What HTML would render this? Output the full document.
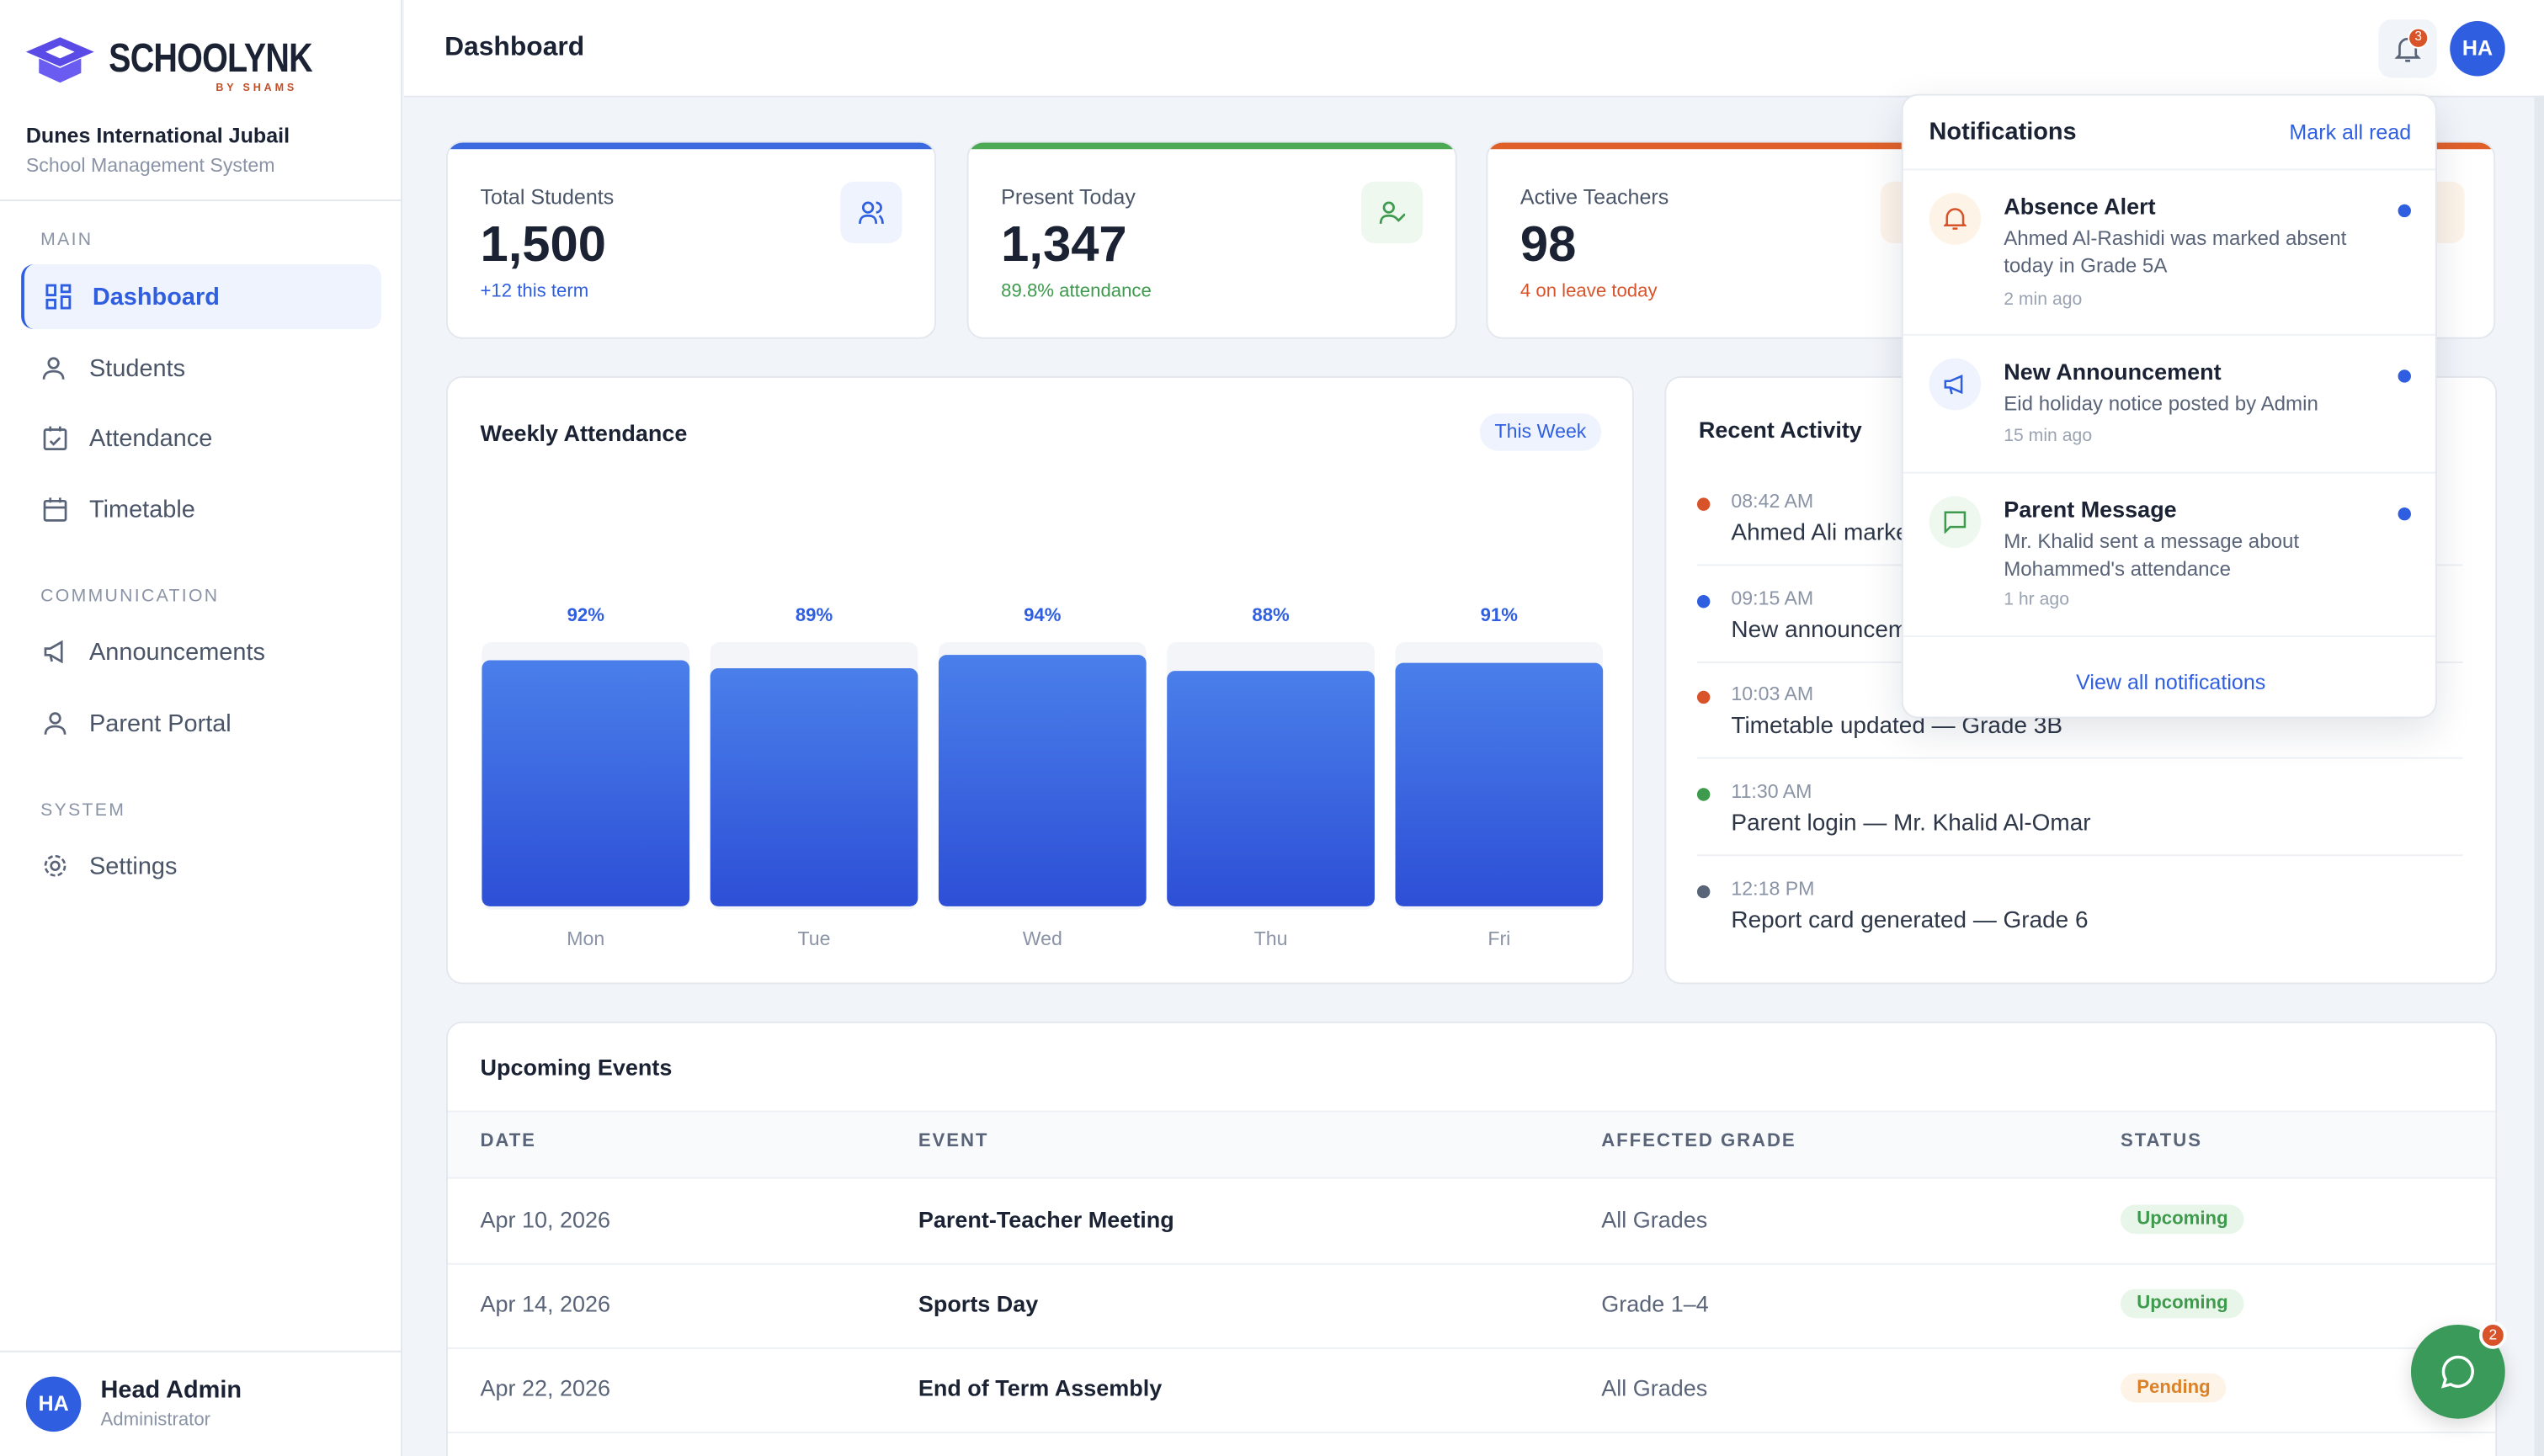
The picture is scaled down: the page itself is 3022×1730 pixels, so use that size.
<!DOCTYPE html>
<html><head><meta charset="utf-8">
<style>
*{box-sizing:border-box;margin:0;padding:0}
html,body{width:3022px;height:1730px;overflow:hidden;background:#fff}
body{font-family:"Liberation Sans",sans-serif;color:#1a2233}
#wrap{position:absolute;left:0;top:0;width:1568px;height:898px;transform:scale(1.9273,1.9265);transform-origin:0 0;background:#f1f4f9;overflow:hidden}
.abs{position:absolute}
.side{left:0;top:0;width:248px;height:898px;background:#fff;border-right:1px solid #e3e7ee}
.nav{position:absolute;left:13px;width:222px;height:40px;border-radius:8px;display:flex;align-items:center;padding-left:42px;font-size:15px;color:#4a5568}
.nav svg{position:absolute;left:13px;top:12px}
.sec{position:absolute;left:25px;font-size:11px;letter-spacing:1.2px;color:#8a94a6}
.card{position:absolute;background:#fff;border:1px solid #e3e7ee;border-radius:10px;overflow:hidden}
.stat .lbl{position:absolute;left:20px;top:26px;font-size:13px;color:#4a5568}
.stat .num{position:absolute;left:20px;top:45px;font-size:31px;font-weight:bold;color:#1a2233}
.stat .sub{position:absolute;left:20px;top:86px;font-size:11.5px}
.stat .ib{position:absolute;left:242px;top:24px;width:38px;height:38px;border-radius:8px}
.stat .bar{position:absolute;left:0;top:0;width:100%;height:4px}
.act{position:absolute;left:1046px;width:472px;height:60px}
.act .dot{position:absolute;left:0;top:5px;width:8px;height:8px;border-radius:50%}
.act .t{position:absolute;left:21px;top:0;font-size:12px;color:#8a94a6}
.act .d{position:absolute;left:21px;top:19px;font-size:14.5px;color:#2d3748;white-space:nowrap}
.sep{position:absolute;left:1046px;width:472px;height:1px;background:#edf0f4}
.th{position:absolute;top:698px;font-size:11.5px;letter-spacing:1px;color:#5a6478;font-weight:bold}
.td{position:absolute;font-size:14px;color:#5a6478}
.pill{position:absolute;font-size:11.5px;font-weight:bold;border-radius:10px;padding:3px 10px}
.ni{position:absolute;left:0;width:329px;border-bottom:1px solid #edf0f4}
.ni .ic{position:absolute;left:16px;width:32px;height:32px;border-radius:50%}
.ni .h{position:absolute;left:62px;font-size:14px;font-weight:bold;color:#1a2233}
.ni .m{position:absolute;left:62px;font-size:12.5px;color:#5a6478;line-height:17px;width:240px}
.ni .a{position:absolute;left:62px;font-size:11px;color:#9aa3b2}
.ni .u{position:absolute;left:305px;width:8px;height:8px;border-radius:50%;background:#2f5fe0}
</style></head><body>
<div id="wrap">
<div class="abs side">
 <svg class="abs" style="left:16px;top:23px" width="42" height="30" viewBox="0 0 42 30"><path d="M21 0 L42 9 L21 18 L0 9Z" fill="#5b4be6"/><path d="M21 5 L30 9 L21 13 L12 9Z" fill="#fff"/><path d="M8 13 L8 22 L21 28 L34 22 L34 13 L21 19Z" fill="#6a5cf0"/></svg>
 <div class="abs" style="left:67px;top:22px;font-size:25px;font-weight:bold;letter-spacing:-0.5px;color:#1a2233;transform:scaleX(0.82);transform-origin:0 0">SCHOOLYNK</div>
 <div class="abs" style="left:133px;top:51px;font-size:6.5px;font-weight:bold;letter-spacing:2px;color:#c0502a">BY SHAMS</div>
 <div class="abs" style="left:16px;top:76px;font-size:13px;font-weight:bold;color:#1a2233">Dunes International Jubail</div>
 <div class="abs" style="left:16px;top:95px;font-size:12px;color:#8a94a6">School Management System</div>
 <div class="abs" style="left:0;top:123px;width:248px;height:1px;background:#e3e7ee"></div>
 <div class="sec" style="top:142px">MAIN</div>
 <div class="nav" style="top:163px;background:#eef3fd;color:#2f5fe0;font-weight:bold;border-left:2px solid #2f5fe0"><svg width="16" height="16" viewBox="0 0 16 16" fill="none" stroke="#2f5fe0" stroke-width="1.5"><rect x="1" y="1" width="5" height="6"/><rect x="10" y="1" width="5" height="4"/><rect x="1" y="10" width="5" height="5"/><rect x="10" y="8" width="5" height="7"/></svg>Dashboard</div>
 <div class="nav" style="top:207px"><svg width="16" height="16" viewBox="0 0 16 16" fill="none" stroke="#5a6478" stroke-width="1.4"><circle cx="7" cy="5" r="3"/><path d="M1 15c0-4 3-5 6-5s6 1 6 5"/></svg>Students</div>
 <div class="nav" style="top:250px"><svg width="16" height="16" viewBox="0 0 16 16" fill="none" stroke="#5a6478" stroke-width="1.4"><rect x="1.5" y="3" width="13" height="12" rx="1"/><path d="M5 1v3M11 1v3M5 10l2 2 4-4"/></svg>Attendance</div>
 <div class="nav" style="top:294px"><svg width="16" height="16" viewBox="0 0 16 16" fill="none" stroke="#5a6478" stroke-width="1.4"><rect x="1.5" y="3" width="13" height="12" rx="1"/><path d="M5 1v3M11 1v3M1.5 7h13"/></svg>Timetable</div>
 <div class="sec" style="top:362px">COMMUNICATION</div>
 <div class="nav" style="top:382px"><svg width="16" height="16" viewBox="0 0 16 16" fill="none" stroke="#5a6478" stroke-width="1.4"><path d="M2 6h3l7-4v12l-7-4H2zM5 10l1 4"/></svg>Announcements</div>
 <div class="nav" style="top:426px"><svg width="16" height="16" viewBox="0 0 16 16" fill="none" stroke="#5a6478" stroke-width="1.4"><circle cx="8" cy="5" r="3"/><path d="M2 15c0-4 3-5 6-5s6 1 6 5"/></svg>Parent Portal</div>
 <div class="sec" style="top:494px">SYSTEM</div>
 <div class="nav" style="top:514px"><svg width="16" height="16" viewBox="0 0 16 16" fill="none" stroke="#5a6478" stroke-width="1.4"><circle cx="8" cy="8" r="2.5"/><circle cx="8" cy="8" r="6" stroke-dasharray="3 1.7"/></svg>Settings</div>
 <div class="abs" style="left:0;top:833px;width:248px;height:1px;background:#e3e7ee"></div>
 <div class="abs" style="left:16px;top:849px;width:34px;height:34px;border-radius:50%;background:#2f5fe0;color:#fff;font-size:13px;font-weight:bold;text-align:center;line-height:34px">HA</div>
 <div class="abs" style="left:62px;top:849px;font-size:15px;font-weight:bold;color:#1a2233">Head Admin</div>
 <div class="abs" style="left:62px;top:870px;font-size:11.5px;color:#8a94a6">Administrator</div>
</div>
<div class="abs" style="left:249px;top:0;width:1319px;height:60px;background:#fff;border-bottom:1px solid #e3e7ee"></div>
<div class="abs" style="left:274px;top:20px;font-size:16.5px;font-weight:bold">Dashboard</div>
<div class="abs" style="left:1466px;top:12px;width:36px;height:36px;border-radius:8px;background:#f1f4f9"><svg class="abs" style="left:10px;top:9px" width="16" height="18" viewBox="0 0 16 18" fill="none" stroke="#5a6478" stroke-width="1.4"><path d="M3 13V8a5 5 0 0110 0v5l1.5 1.5h-13zM6.5 16.5h3"/></svg><div class="abs" style="left:18px;top:5px;width:13px;height:13px;border-radius:50%;background:#d9532a;border:1.5px solid #fff;color:#fff;font-size:8px;text-align:center;line-height:10px">3</div></div>
<div class="abs" style="left:1510px;top:13px;width:34px;height:34px;border-radius:50%;background:#2f5fe0;color:#fff;font-size:13px;font-weight:bold;text-align:center;line-height:34px">HA</div>
<div class="abs" style="left:1562px;top:60px;width:6px;height:838px;background:#e3e7ee"></div>

<div class="card stat" style="left:275px;top:87px;width:302px;height:122px"><div class="bar" style="background:#3b6ae0"></div><div class="lbl">Total Students</div><div class="num">1,500</div><div class="sub" style="color:#2f5fe0">+12 this term</div><div class="ib" style="background:#eef3fd"><svg class="abs" style="left:11px;top:11px" width="16" height="16" viewBox="0 0 16 16" fill="none" stroke="#2f5fe0" stroke-width="1.4"><circle cx="6" cy="5" r="3"/><path d="M1 15c0-4 2-5 5-5s5 1 5 5M11 2a3 3 0 010 6M13 10c1 1 2 2 2 5"/></svg></div></div>
<div class="card stat" style="left:596px;top:87px;width:302px;height:122px"><div class="bar" style="background:#4caa55"></div><div class="lbl">Present Today</div><div class="num">1,347</div><div class="sub" style="color:#3e9a4c">89.8% attendance</div><div class="ib" style="background:#eef8ef"><svg class="abs" style="left:11px;top:11px" width="16" height="16" viewBox="0 0 16 16" fill="none" stroke="#3e9a4c" stroke-width="1.4"><circle cx="6" cy="5" r="3"/><path d="M1 15c0-4 2-5 5-5s4 1 5 2M10 11l2 2 4-4"/></svg></div></div>
<div class="card stat" style="left:916px;top:87px;width:622px;height:122px"><div class="bar" style="background:#e0602a"></div><div class="lbl">Active Teachers</div><div class="num">98</div><div class="sub" style="color:#d9532a">4 on leave today</div><div class="ib" style="left:242px;background:#fdf4ea"></div><div class="ib" style="left:564px;background:#fdf4ea"></div></div>

<div class="card" style="left:275px;top:232px;width:732px;height:375px">
 <div class="abs" style="left:20px;top:26px;font-size:14px;font-weight:bold">Weekly Attendance</div>
 <div class="abs" style="left:636px;top:22px;width:75px;height:23px;border-radius:12px;background:#eef3fd;color:#2f5fe0;font-size:12px;text-align:center;line-height:23px">This Week</div>
 <svg id="chart" class="abs" style="left:0;top:0" width="732" height="375"></svg>
</div>

<div class="card" style="left:1026px;top:232px;width:513px;height:375px">
 <div class="abs" style="left:20px;top:24px;font-size:14px;font-weight:bold">Recent Activity</div>
</div>
<div class="sep" style="top:348px"></div>
<div class="sep" style="top:408px"></div>
<div class="sep" style="top:467px"></div>
<div class="sep" style="top:527px"></div>
<div class="act" style="top:302px"><div class="dot" style="background:#d9532a"></div><div class="t">08:42 AM</div><div class="d">Ahmed Ali marked absent — Grade 5A</div></div>
<div class="act" style="top:362px"><div class="dot" style="background:#2f5fe0"></div><div class="t">09:15 AM</div><div class="d">New announcement posted</div></div>
<div class="act" style="top:421px"><div class="dot" style="background:#d9532a"></div><div class="t">10:03 AM</div><div class="d">Timetable updated — Grade 3B</div></div>
<div class="act" style="top:481px"><div class="dot" style="background:#3e9a4c"></div><div class="t">11:30 AM</div><div class="d">Parent login — Mr. Khalid Al-Omar</div></div>
<div class="act" style="top:541px"><div class="dot" style="background:#5a6478"></div><div class="t">12:18 PM</div><div class="d">Report card generated — Grade 6</div></div>

<div class="card" style="left:275px;top:630px;width:1264px;height:300px">
 <div class="abs" style="left:20px;top:19px;font-size:14px;font-weight:bold">Upcoming Events</div>
 <div class="abs" style="left:0;top:54px;width:1264px;height:42px;background:#f8fafc;border-top:1px solid #edf0f4;border-bottom:1px solid #edf0f4"></div>
 <div class="abs" style="left:0;top:148px;width:1264px;height:1px;background:#edf0f4"></div>
 <div class="abs" style="left:0;top:200px;width:1264px;height:1px;background:#edf0f4"></div>
 <div class="abs" style="left:0;top:252px;width:1264px;height:1px;background:#edf0f4"></div>
</div>
<div class="th" style="left:296px">DATE</div>
<div class="th" style="left:566px">EVENT</div>
<div class="th" style="left:987px">AFFECTED GRADE</div>
<div class="th" style="left:1307px">STATUS</div>
<div class="td" style="left:296px;top:744px">Apr 10, 2026</div>
<div class="td" style="left:566px;top:744px;color:#1a2233;font-weight:bold">Parent-Teacher Meeting</div>
<div class="td" style="left:987px;top:744px">All Grades</div>
<div class="pill" style="left:1307px;top:743px;background:#e8f6ea;color:#3e9a4c">Upcoming</div>
<div class="td" style="left:296px;top:796px">Apr 14, 2026</div>
<div class="td" style="left:566px;top:796px;color:#1a2233;font-weight:bold">Sports Day</div>
<div class="td" style="left:987px;top:796px">Grade 1–4</div>
<div class="pill" style="left:1307px;top:795px;background:#e8f6ea;color:#3e9a4c">Upcoming</div>
<div class="td" style="left:296px;top:848px">Apr 22, 2026</div>
<div class="td" style="left:566px;top:848px;color:#1a2233;font-weight:bold">End of Term Assembly</div>
<div class="td" style="left:987px;top:848px">All Grades</div>
<div class="pill" style="left:1307px;top:847px;background:#fdf3e6;color:#d9822a">Pending</div>

<div class="abs" style="left:1172px;top:58px;width:330px;height:385px;background:#fff;border:1px solid #e3e7ee;border-radius:10px;box-shadow:0 8px 24px rgba(20,30,60,0.12);overflow:hidden">
 <div class="abs" style="left:16px;top:14px;font-size:15px;font-weight:bold">Notifications</div>
 <div class="abs" style="left:238px;top:15px;font-size:13px;color:#2f5fe0">Mark all read</div>
 <div class="abs" style="left:0;top:45px;width:330px;height:1px;background:#edf0f4"></div>
 <div class="ni" style="top:46px;height:102px"><div class="ic" style="top:14px;background:#fdf3e6"><svg class="abs" style="left:9px;top:8px" width="14" height="15" viewBox="0 0 14 15" fill="none" stroke="#d9532a" stroke-width="1.3"><path d="M2 11V7a5 5 0 0110 0v4l1 1H1zM5.5 14h3"/></svg></div><div class="h" style="top:14px">Absence Alert</div><div class="m" style="top:34px">Ahmed Al-Rashidi was marked absent today in Grade 5A</div><div class="a" style="top:74px">2 min ago</div><div class="u" style="top:21px"></div></div>
 <div class="ni" style="top:148px;height:85px"><div class="ic" style="top:14px;background:#eef3fd"><svg class="abs" style="left:9px;top:9px" width="14" height="14" viewBox="0 0 14 14" fill="none" stroke="#2f5fe0" stroke-width="1.3"><path d="M1 5h3l7-3v10l-7-3H1zM4 9l1 4"/></svg></div><div class="h" style="top:14px">New Announcement</div><div class="m" style="top:34px">Eid holiday notice posted by Admin</div><div class="a" style="top:56px">15 min ago</div><div class="u" style="top:21px"></div></div>
 <div class="ni" style="top:233px;height:101px"><div class="ic" style="top:14px;background:#eef8ef"><svg class="abs" style="left:9px;top:9px" width="14" height="14" viewBox="0 0 14 14" fill="none" stroke="#3e9a4c" stroke-width="1.3"><path d="M1 1h12v9H4l-3 3z"/></svg></div><div class="h" style="top:14px">Parent Message</div><div class="m" style="top:34px">Mr. Khalid sent a message about Mohammed's attendance</div><div class="a" style="top:72px">1 hr ago</div><div class="u" style="top:21px"></div></div>
 <div class="abs" style="left:0;top:354px;width:330px;text-align:center;font-size:13px;color:#2f5fe0">View all notifications</div>
</div>

<div class="abs" style="left:1486px;top:817px;width:58px;height:58px;border-radius:50%;background:#3a9a5a;box-shadow:0 4px 12px rgba(0,0,0,0.15)"><svg class="abs" style="left:18px;top:18px" width="22" height="22" viewBox="0 0 22 22" fill="none" stroke="#fff" stroke-width="1.8"><path d="M11 2a9 9 0 11-4.5 16.8L2 20l1.3-4.3A9 9 0 0111 2z"/></svg><div class="abs" style="left:42px;top:-2px;width:17px;height:17px;border-radius:50%;background:#d9532a;border:2px solid #fff;color:#fff;font-size:9px;text-align:center;line-height:13px">2</div></div>
</div>
<script>
const days=["Mon","Tue","Wed","Thu","Fri"];
const pct=[92,89,94,88,91];
const svg=document.getElementById('chart');
const NS='http://www.w3.org/2000/svg';
const x0=21,bw=128,step=140.75,trackTop=163,base=326,scaleH=165;
function y(v){return base-v/100*scaleH;}
const defs=document.createElementNS(NS,'defs');
defs.innerHTML='<linearGradient id="g" x1="0" y1="0" x2="0" y2="1"><stop offset="0" stop-color="#4a7fea"/><stop offset="1" stop-color="#2d4fd6"/></linearGradient>';
svg.appendChild(defs);
days.forEach((d,i)=>{
 const x=x0+i*step;
 const tr=document.createElementNS(NS,'rect');
 tr.setAttribute('x',x);tr.setAttribute('y',trackTop);tr.setAttribute('width',bw);tr.setAttribute('height',base+2-trackTop);tr.setAttribute('rx',6);tr.setAttribute('fill','#f3f5f9');
 
 
 svg.appendChild(tr);
 const r=document.createElementNS(NS,'rect');
 r.setAttribute('x',x);r.setAttribute('y',y(pct[i]));r.setAttribute('width',bw);r.setAttribute('height',base-y(pct[i]));r.setAttribute('rx',5);r.setAttribute('fill','url(#g)');
 
 
 svg.appendChild(r);
 const t=document.createElementNS(NS,'text');
 t.setAttribute('x',x+bw/2);t.setAttribute('y',150);t.setAttribute('text-anchor','middle');t.setAttribute('font-size','11.5');t.setAttribute('font-weight','bold');t.setAttribute('fill','#2f5fe0');t.setAttribute('font-family','Liberation Sans, sans-serif');
 t.textContent=pct[i]+'%';
 
 
 svg.appendChild(t);
 const l=document.createElementNS(NS,'text');
 l.setAttribute('x',x+bw/2);l.setAttribute('y',350);l.setAttribute('text-anchor','middle');l.setAttribute('font-size','12');l.setAttribute('fill','#8a94a6');l.setAttribute('font-family','Liberation Sans, sans-serif');
 l.textContent=d;
 
 
 svg.appendChild(l);
});
</script>
</body></html>
